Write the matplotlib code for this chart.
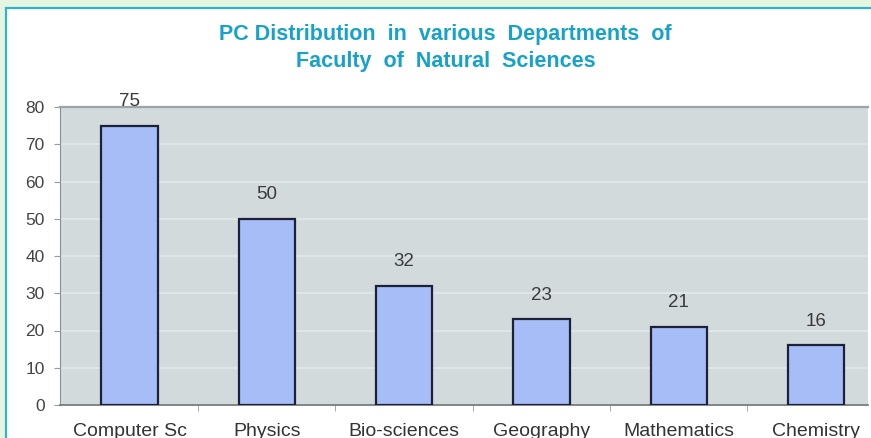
import matplotlib
matplotlib.use("Agg")
import matplotlib.pyplot as plt
from matplotlib.patches import Rectangle

categories = ["Computer Sc", "Physics", "Bio-sciences", "Geography", "Mathematics", "Chemistry"]
values = [75, 50, 32, 23, 21, 16]
yticks = [0, 10, 20, 30, 40, 50, 60, 70, 80]
title = "PC Distribution  in  various  Departments  of\nFaculty  of  Natural  Sciences"

W, H = 871, 438
fig = plt.figure(figsize=(W / 100, H / 100), dpi=100)
fig.patch.set_facecolor("#e6f5df")

# white panel with teal border
panel = Rectangle((6 / W, -0.1), 1.2, (H - 8) / H + 0.1, transform=fig.transFigure,
                  facecolor="white", edgecolor="#2cb4cc", linewidth=1.6, zorder=-5)
fig.patches.append(panel)

left, right, top, bottom = 60, 868, 107, 405
ax = fig.add_axes([left / W, 1 - bottom / H, (right - left) / W, (bottom - top) / H])
ax.set_facecolor("#d3dadc")

x = list(range(len(categories)))
ax.bar(x, values, width=0.41, color="#a6bdf7", edgecolor="#1c2138", linewidth=1.6, zorder=3)
for xi, v in zip(x, values):
    ax.text(xi, v + 4.2, str(v), ha="center", va="bottom", fontsize=13.5,
            color="#3a3a3a", family="Liberation Sans", zorder=4)

ax.set_yticks(yticks)
ax.set_yticklabels([str(t) for t in yticks], fontsize=12.5, color="#444444", family="Liberation Sans")
ax.yaxis.grid(True, color="#e3e8ea", linewidth=1.2, zorder=0)
ax.set_axisbelow(True)

ax.set_xticks(x)
ax.set_xticklabels(categories, fontsize=14, color="#333333", family="Liberation Sans")
ax.tick_params(axis="x", which="major", length=0, pad=13)
ax.set_xticks([i + 0.5 for i in range(len(categories) - 1)], minor=True)
ax.tick_params(axis="x", which="minor", length=4, color="#9a9a9a", direction="out")
ax.tick_params(axis="y", length=4, color="#9a9a9a", direction="out", pad=7)

ax.set_ylim(0, 80)
ax.set_xlim(-0.506, -0.506 + (right - left) / 137.3)

ax.spines["right"].set_visible(False)
ax.spines["top"].set_color("#9ea3a6")
ax.spines["top"].set_linewidth(1.6)
ax.spines["left"].set_color("#8a8f92")
ax.spines["bottom"].set_color("#6e7275")
ax.spines["bottom"].set_linewidth(1.2)

fig.text(445.5 / W, 1 - 24 / H, title, ha="center", va="top", fontsize=15.5,
         fontweight="bold", color="#18a2c8", family="Liberation Sans", linespacing=1.35)

fig.savefig("out.png", dpi=100, facecolor=fig.get_facecolor())
